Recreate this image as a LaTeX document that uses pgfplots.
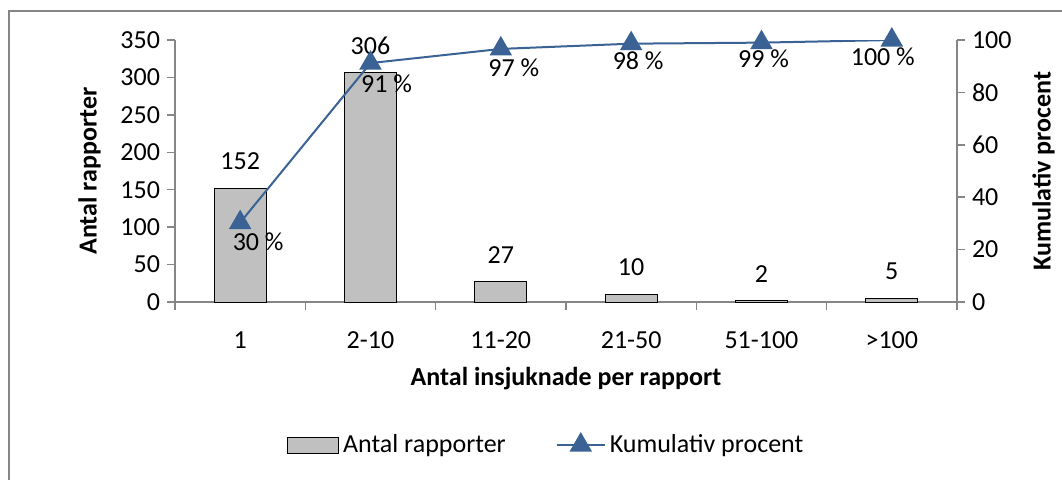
\documentclass[border=0pt]{standalone}
\usepackage{pgfplots}
\pgfplotsset{compat=1.18}
\usepackage{fontspec}
\setmainfont{Carlito}

\definecolor{axisgray}{RGB}{134,134,134}
\definecolor{barfill}{RGB}{192,192,192}
\definecolor{lineblue}{RGB}{58,98,148}

\pgfkeys{/pgf/number format/assume math mode=true}

% shared look of both axes (1 px of the reference = 0.5pt)
\pgfplotsset{
  excelaxis/.style={
    width=391pt, height=131pt, scale only axis,
    xmin=0.5, xmax=6.5,
    axis line style={axisgray, line width=0.75pt},
    tick style={axisgray, line width=0.75pt},
    tick align=outside,
    major tick length=4pt,
    minor tick length=4pt,
    label style={black},
    tick label style={black},
  },
  triangle legend/.style={
    legend image code/.code={
      \draw[mark repeat=2, mark phase=2, ##1] plot coordinates {(0pt,0pt) (12pt,0pt) (24pt,0pt)};}
  },
  box legend/.style={
    legend image code/.code={
      \draw[fill=barfill, draw=black, line width=0.5pt] (0pt,-4pt) rectangle (25.5pt,4pt);}
  },
}

\begin{document}
\begin{tikzpicture}[font=\fontsize{13}{15.6}\selectfont]
  \path[use as bounding box] (-87.5pt,-88.5pt) rectangle (443.5pt,151pt);
  % chart frame (cut off at right and bottom in the reference)
  \draw[axisgray, line width=0.75pt] (-83pt,-120pt) -- (-83pt,145.5pt) -- (480pt,145.5pt);

  \begin{axis}[excelaxis,
      axis y line*=left, axis x line*=bottom,
      ymin=0, ymax=350, ytick={0,50,...,350},
      xtick={1,...,6},
      xticklabels={1,2-10,11-20,21-50,51-100,>100},
      xticklabel style={yshift=-7.5pt},
      major x tick style={draw=none},
      minor xtick={0.5,1.5,...,6.5},
      ylabel={\bfseries Antal rapporter},
      ylabel shift=3pt,
      xlabel={\bfseries Antal insjuknade per rapport},
      xlabel shift=2pt,
      ybar, bar width=26pt,
      nodes near coords,
      nodes near coords style={anchor=south, inner sep=0pt, yshift=9pt, black},
    ]
    \addplot[fill=barfill, draw=black, line width=0.5pt]
      coordinates {(1,152) (2,306) (3,27) (4,10) (5,2) (6,5)};
  \end{axis}

  \begin{axis}[excelaxis,
      axis y line*=right, axis x line=none,
      ymin=0, ymax=100, ytick={0,20,...,100},
      ylabel={\bfseries Kumulativ procent},
      ylabel shift=3.5pt,
      legend columns=2,
      legend style={draw=none, fill=none, at={(0.476,-0.546)}, anchor=center,
        /tikz/every even column/.append style={column sep=23pt},
        font=\fontsize{13}{15.6}\selectfont},
      legend cell align=left,
    ]
    \addlegendimage{box legend}
    \addlegendentry{Antal rapporter}
    \addplot[lineblue, line width=1pt, mark=triangle*, mark size=5.5pt, triangle legend]
      coordinates {(1,30.3) (2,91.2) (3,96.6) (4,98.6) (5,99.0) (6,100)};
    \addlegendentry{Kumulativ procent}

    \node[xshift=9pt,  yshift=-9.5pt]  at (axis cs:1,30.3) {30 \%};
    \node[xshift=8pt,  yshift=-10.5pt] at (axis cs:2,91.2) {91 \%};
    \node[xshift=6.5pt,yshift=-9.5pt]  at (axis cs:3,96.6) {97 \%};
    \node[xshift=3.5pt,yshift=-8.5pt]  at (axis cs:4,98.6) {98 \%};
    \node[xshift=1pt,  yshift=-8pt]    at (axis cs:5,99.0) {99 \%};
    \node[xshift=-4.5pt,yshift=-8.5pt] at (axis cs:6,100)  {100 \%};
  \end{axis}
\end{tikzpicture}
\end{document}
